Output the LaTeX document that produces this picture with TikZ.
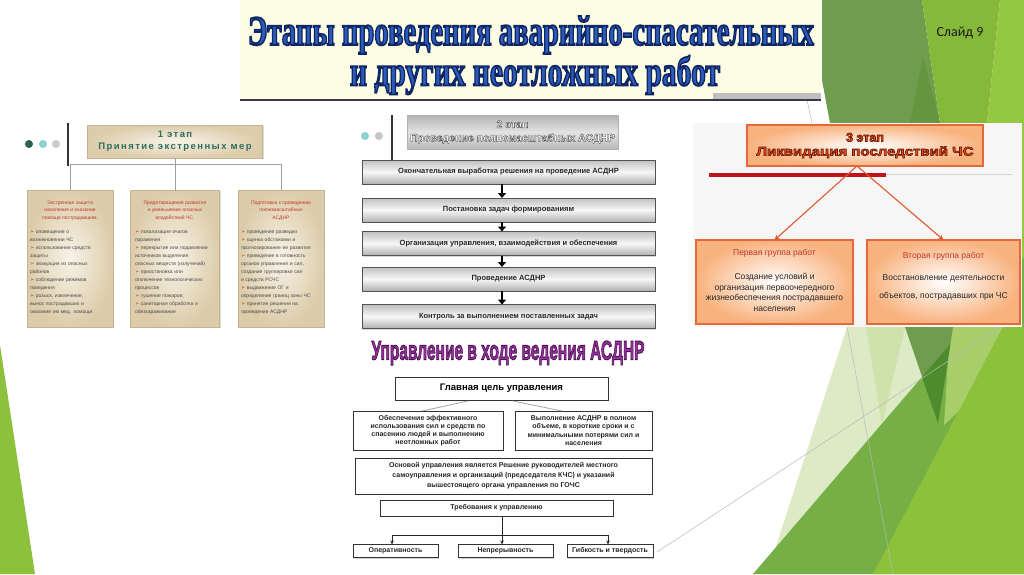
\documentclass[tikz,border=0pt]{standalone}
\usepackage{fontspec}
\usepackage{graphicx}
\setmainfont{Liberation Sans}
\newfontfamily\serifbf{Liberation Serif}
\newfontfamily\carlito{Carlito}
\newfontfamily\djv{DejaVu Sans}
\newfontfamily\spacedsans[LetterSpace=15]{Liberation Sans}
\usetikzlibrary{arrows.meta,shadows}

\definecolor{cream}{HTML}{FDFDE4}
\definecolor{gDark}{HTML}{6F9D4D}
\definecolor{gDarker}{HTML}{65963F}
\definecolor{gDeep}{HTML}{4E8A2E}
\definecolor{gMid}{HTML}{86B83A}
\definecolor{gBright}{HTML}{95C842}
\definecolor{gLeft}{HTML}{8DC13B}
\definecolor{gPale}{HTML}{DDEAC6}
\definecolor{gPale2}{HTML}{CFE2AC}
\definecolor{gMed}{HTML}{76AF46}
\definecolor{gStripe}{HTML}{A8CE6C}
\definecolor{tealD}{HTML}{2F5F5A}
\definecolor{tealL}{HTML}{8CCFD0}
\definecolor{dotG}{HTML}{C8C8C8}
\definecolor{tealT}{HTML}{2E6E60}
\definecolor{beigeO}{HTML}{DCCCAA}
\definecolor{beigeI}{HTML}{F8F3E8}
\definecolor{beigeB}{HTML}{C4B391}
\definecolor{redT}{HTML}{C0392B}
\definecolor{orgB}{HTML}{E4683A}
\definecolor{orgO}{HTML}{F8B27E}
\definecolor{orgA}{HTML}{E2572E}
\definecolor{orgF}{HTML}{E8501C}
\definecolor{blueF}{HTML}{2D5BB8}
\definecolor{purF}{HTML}{93329A}
\definecolor{txtG}{HTML}{4A4A4A}
\definecolor{lineD}{HTML}{3C3550}
\definecolor{barR}{HTML}{C0141C}

\newcommand\mybul{{\djv\color{redT}➢}\ }
% outlined text: #1 fill colour, #2 stroke rgb (pdf numbers), #3 line width, #4 text
\newcommand\outl[4]{{\color{#1}\special{pdf:literal direct 2 Tr #3 w #2 RG}#4\special{pdf:literal direct 0 Tr}}}

\begin{document}
\begin{tikzpicture}[x=1pt,y=-1pt,
  every node/.style={inner sep=0pt, outer sep=0pt},
  beigebox/.style={draw=beigeB, line width=0.4pt, inner color=beigeI, outer color=beigeO,
    drop shadow={shadow xshift=1.2pt,shadow yshift=-1.2pt,opacity=0.25}},
  tinytitle/.style={align=center, text=redT, font=\fontsize{5}{7.3}\selectfont},
  tinylist/.style={align=left, text=txtG, text width=80pt, font=\fontsize{5}{8}\selectfont},
  metal/.style={draw=gray!65!black, line width=0.5pt, top color=gray!50, bottom color=gray!62,
    middle color=gray!6, drop shadow={shadow xshift=1.2pt,shadow yshift=-1.2pt,opacity=0.3}},
  steptext/.style={font=\bfseries\fontsize{7.5}{9}\selectfont, text=black!85},
  bigarr/.style={line width=2.4pt, -{Triangle[length=5pt,width=8pt]}},
  conn/.style={draw=gray!75, line width=0.9pt},
  orgbox/.style={draw=orgB, line width=1.1pt, inner color=white, outer color=orgO,
    drop shadow={shadow xshift=1pt,shadow yshift=-1pt,opacity=0.2}},
  orgarr/.style={draw=orgA, line width=1.1pt, -{Stealth[length=5pt,width=5pt]}},
  plainbox/.style={draw=black!80, line width=0.8pt, fill=white,
    drop shadow={shadow xshift=1pt,shadow yshift=-1pt,opacity=0.35}},
  bbtext/.style={font=\bfseries\fontsize{7}{8.2}\selectfont, align=center, text=black!85},
  thinline/.style={draw=gray!55, line width=0.5pt}
]
\useasboundingbox (0,0) rectangle (1024,574);
\fill[white] (0,0) rectangle (1024,574);

% ---------- green decorations ----------
\fill[gLeft] (0,345) -- (35,574) -- (0,574) -- cycle;
% top right
\fill[gDark] (822,0) -- (922,0) -- (940,123) -- (830,123) -- (822,80) -- cycle;
\fill[gDarker] (923,57) -- (940,123) -- (910,123) -- cycle;
\fill[gMid] (922,0) -- (1000,0) -- (987,123) -- (940,123) -- cycle;
\fill[gBright] (1000,0) -- (1024,0) -- (1024,123) -- (987,123) -- cycle;
\fill[gBright] (1022,123) rectangle (1024,330);
% bottom right
\fill[gPale] (847,327) -- (1024,327) -- (1024,574) -- (767,574) -- cycle;
\fill[gPale2] (866,327) -- (905,327) -- (882,425) -- cycle;
\fill[gMed] (753,574) -- (1024,258) -- (1024,574) -- cycle;
\fill[gStripe] (950,327) -- (1003,327) -- (960,410) -- (944,425) -- cycle;
\fill[gDark] (905,327) -- (953,327) -- (938,423) -- cycle;
\fill[gDeep] (922,377) -- (950.4,344) -- (938,423) -- cycle;
\fill[gLeft] (873,574) -- (1003,327) -- (1024,327) -- (1024,574) -- cycle;
\draw[thinline] (847,327) -- (893,574);
\draw[thinline] (657,552) -- (1000,327);
\draw[thinline] (807,100) -- (812,123);

% ---------- title band ----------
\fill[cream] (240,0) rectangle (821,100);
\fill[gray!50] (713,93) rectangle (821,99.5);
\draw[lineD, line width=1.6pt] (240,100) -- (821,100);
\node[font=\serifbf\bfseries] (t1) at (531,35)
  {\resizebox{566pt}{\height}{\fontsize{42}{42}\selectfont\outl{blueF}{0.06 0.15 0.40}{1.8}{Этапы проведения аварийно-спасательных}}};
\node[font=\serifbf\bfseries] (t2) at (535,75)
  {\resizebox{370pt}{\height}{\fontsize{42}{42}\selectfont\outl{blueF}{0.06 0.15 0.40}{1.8}{и других неотложных работ}}};

\node[font=\carlito\fontsize{14}{16}\selectfont, text=black!90] (slide) at (960,33) {Слайд 9};

% ---------- panel 1 ----------
\fill[tealD] (29,144) circle (4);
\fill[tealL] (43,144) circle (4);
\fill[dotG] (56,144) circle (4);
\draw[black!80, line width=1.5pt] (68,123) -- (68,166);
\node[beigebox, minimum width=175pt, minimum height=33pt, align=center, text=tealT,
  font=\spacedsans\bfseries\fontsize{9.5}{12}\selectfont] (tb1) at (175,141.5)
  {1 этап\\Принятие экстренных мер};
\node[beigebox, minimum width=86pt, minimum height=137pt] (b11) at (70,258.5) {};
\node[beigebox, minimum width=89pt, minimum height=137pt] (b12) at (175,258.5) {};
\node[beigebox, minimum width=86pt, minimum height=137pt] (b13) at (281,258.5) {};
\draw[conn] (tb1.south) -- (b12.north);
\draw[conn] (b11.north) -- ++(0,-26) -| (b13.north);

\node[tinytitle, anchor=north] (b11t) at (70,201) {Экстренная защита\\населения и оказание\\помощи пострадавшим.};
\node[tinylist, anchor=north] (b11l) at (70,231) {\mybul оповещение о\\возникновении ЧС\\\mybul использование средств\\защиты\\\mybul эвакуация из опасных\\районов\\\mybul соблюдение режимов\\поведения\\\mybul розыск, извлечение,\\вынос пострадавших и\\оказание им мед. помощи};
\node[tinytitle, anchor=north] (b12t) at (175,201) {Предотвращение развития\\и уменьшение опасных\\воздействий ЧС.};
\node[tinylist, anchor=north] (b12l) at (175,231) {\mybul локализация очагов\\поражения\\\mybul перекрытие или подавление\\источников выделения\\опасных веществ (излучений)\\\mybul приостановка или\\отключение технологических\\процессов\\\mybul тушение пожаров;\\\mybul санитарная обработка и\\обеззараживание};
\node[tinytitle, anchor=north] (b13t) at (281,201) {Подготовка к проведению\\полномасштабных\\АСДНР};
\node[tinylist, anchor=north] (b13l) at (281,231) {\mybul проведение разведки\\\mybul оценка обстановки и\\прогнозирование ее развития\\\mybul приведение в готовность\\органов управления и сил,\\создание группировки сил\\и средств РСЧС\\\mybul выдвижение ОГ и\\определение границ зоны ЧС\\\mybul принятие решения на\\проведение АСДНР};

% ---------- panel 2 ----------
\fill[tealL] (365,136) circle (4);
\fill[dotG] (379,136) circle (4);
\draw[black!80, line width=1.5pt] (392,115) -- (392,160);
\node[draw=gray!60, line width=0.4pt, top color=gray!60, bottom color=gray!55, middle color=gray!22,
  minimum width=211pt, minimum height=34pt, align=center, font=\bfseries\fontsize{10.5}{13.5}\selectfont] (tb2) at (512.5,132)
  {\outl{white}{0.25 0.25 0.25}{0.35}{2 этап}\\\resizebox{205pt}{\height}{\outl{white}{0.25 0.25 0.25}{0.35}{Проведение полномасштабных АСДНР}}};

\node[metal, steptext, minimum width=293pt, minimum height=24pt] (s1) at (508.5,172) {Окончательная выработка решения на проведение АСДНР};
\node[metal, steptext, minimum width=293pt, minimum height=24pt] (s2) at (508.5,210) {Постановка задач формированиям};
\node[metal, steptext, minimum width=293pt, minimum height=24pt] (s3) at (508.5,243.5) {Организация управления, взаимодействия и обеспечения};
\node[metal, steptext, minimum width=293pt, minimum height=24pt] (s4) at (508.5,279) {Проведение АСДНР};
\node[metal, steptext, minimum width=293pt, minimum height=24pt] (s5) at (508.5,316.5) {Контроль за выполнением поставленных задач};
\draw[bigarr] ([xshift=-6.5pt]s1.south) -- ([xshift=-6.5pt]s2.north);
\draw[bigarr] ([xshift=-6.5pt]s2.south) -- ([xshift=-6.5pt]s3.north);
\draw[bigarr] ([xshift=-6.5pt]s3.south) -- ([xshift=-6.5pt]s4.north);
\draw[bigarr] ([xshift=-6.5pt]s4.south) -- ([xshift=-6.5pt]s5.north);

% ---------- panel 3 ----------
\fill[gray!7] (693,123) rectangle (1022,327);
\node[draw=orgB, line width=1.1pt, inner color=white, outer color=orgO,
  drop shadow={shadow xshift=1pt,shadow yshift=-1pt,opacity=0.2},
  minimum width=236pt, minimum height=41pt, align=center, font=\bfseries\fontsize{12.5}{14}\selectfont] (tb3) at (865,145.5)
  {\outl{orgF}{0.42 0.08 0}{0.6}{3 этап}\\\resizebox{217pt}{\height}{\outl{orgF}{0.42 0.08 0}{0.6}{Ликвидация последствий ЧС}}};
\fill[barR] (709,172.5) rectangle (886,176.5);
\draw[gray!35, line width=0.6pt] (886,174) -- (1012,174);
\node[orgbox, minimum width=157pt, minimum height=84pt] (g1) at (774.5,282) {};
\node[orgbox, minimum width=153pt, minimum height=84pt] (g2) at (943.5,282) {};
\draw[orgarr] ([xshift=-8pt]tb3.south) -- (g1.north);
\draw[orgarr] ([xshift=-8pt]tb3.south) -- (g2.north);
\node[text=redT, font=\fontsize{8.5}{10}\selectfont] (g1h) at (774.5,253) {Первая группа работ};
\node[text=black!85, align=center, font=\fontsize{8.5}{10.8}\selectfont, anchor=north] (g1b) at (774.5,273) {Создание условий и\\организация первоочередного\\жизнеобеспечения пострадавшего\\населения};
\node[text=redT, font=\fontsize{8.5}{10}\selectfont] (g2h) at (943.5,256) {Вторая группа работ};
\node[text=black!85, align=center, font=\fontsize{8.5}{18}\selectfont, anchor=north] (g2b) at (943.5,275) {Восстановление деятельности\\объектов, пострадавших при ЧС};

% ---------- bottom panel ----------
\node (ut) at (508,353) {\resizebox{273pt}{\height}{\fontsize{27}{27}\selectfont\bfseries\outl{purF}{0.29 0.06 0.31}{0.9}{Управление в ходе ведения АСДНР}}};
\node[plainbox, minimum width=213pt, minimum height=23pt, font=\bfseries\fontsize{9.5}{11}\selectfont] (gc) at (501.5,388.5) {Главная цель управления};
\node[plainbox, bbtext, minimum width=150pt, minimum height=39pt] (bl) at (428,430.5) {Обеспечение эффективного\\использования сил и средств по\\спасению людей и выполнению\\неотложных работ};
\node[plainbox, bbtext, minimum width=137pt, minimum height=39pt] (br) at (583.5,430.5) {Выполнение АСДНР в полном\\объеме, в короткие сроки и с\\минимальными потерями сил и\\населения};
\draw[gray!70, line width=0.8pt] ([xshift=-33.5pt,yshift=-1pt]gc.south) -- ([xshift=-6pt]bl.north);
\draw[gray!70, line width=0.8pt] ([xshift=11.5pt,yshift=-1pt]gc.south) -- ([xshift=-21.5pt]br.north);
\node[plainbox, bbtext, minimum width=297pt, minimum height=36pt, font=\bfseries\fontsize{7}{10}\selectfont] (osn) at (503.5,476) {Основой управления является Решение руководителей местного\\самоуправления и организаций (председателя КЧС) и указаний\\вышестоящего органа управления по ГОЧС};
\node[plainbox, bbtext, minimum width=233pt, minimum height=16pt] (tr) at (496.5,508) {Требования к управлению};
\node[plainbox, bbtext, minimum width=85pt, minimum height=13pt] (o1) at (395.5,551) {Оперативность};
\node[plainbox, bbtext, minimum width=95pt, minimum height=13pt] (o2) at (505.5,551) {Непрерывность};
\node[plainbox, bbtext, minimum width=86pt, minimum height=13pt] (o3) at (610,551) {Гибкость и твердость};
\coordinate (hub) at (502,535);
\draw[black!85, line width=0.8pt] (tr.south -| hub) -- (hub);
\draw[black!85, line width=0.8pt, -{Stealth[length=4pt,width=3.5pt]}] (hub) -- (hub |- o2.north);
\draw[black!85, line width=0.8pt, -{Stealth[length=4pt,width=3.5pt]}] (hub) -| ([xshift=-3.5pt]o1.north);
\draw[black!85, line width=0.8pt, -{Stealth[length=4pt,width=3.5pt]}] (hub) -| ([xshift=-2pt]o3.north);
\end{tikzpicture}
\end{document}
